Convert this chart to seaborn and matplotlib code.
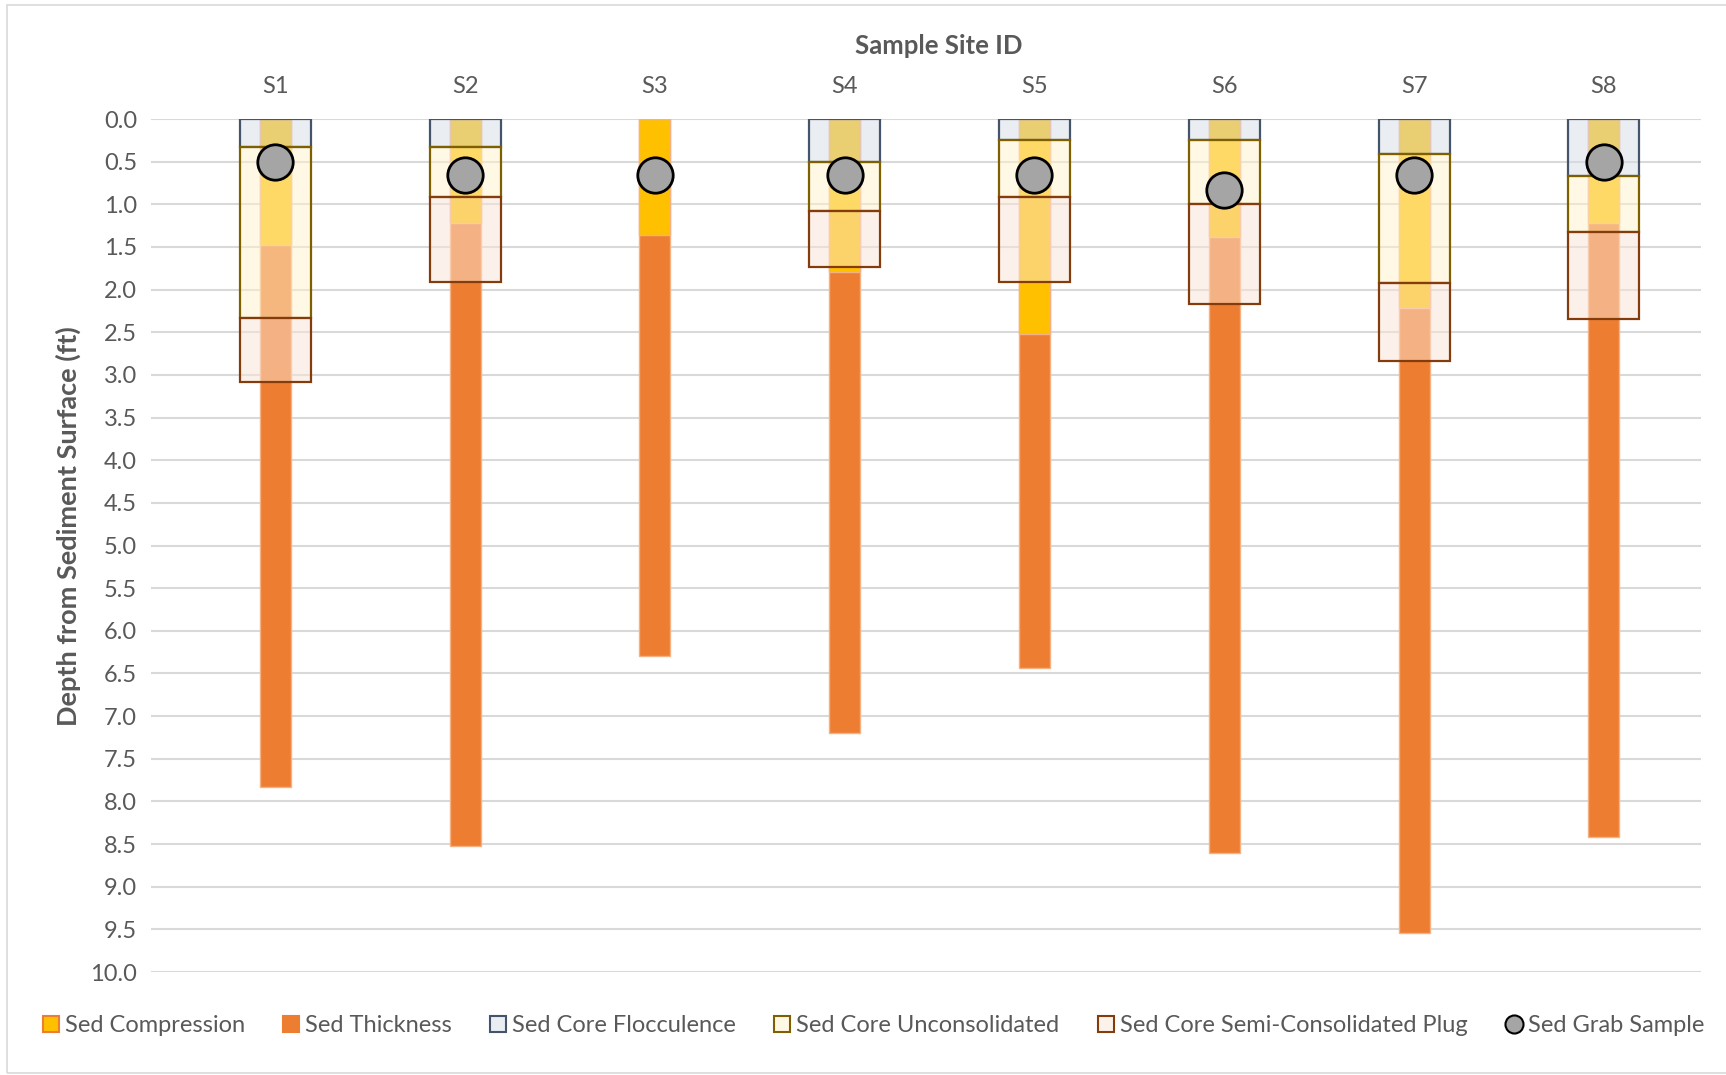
import numpy as np
import pandas as pd
import seaborn as sns
import matplotlib.pyplot as plt
from matplotlib.patches import Rectangle
from matplotlib.lines import Line2D

# depths (ft)
sites = ['S1', 'S2', 'S3', 'S4', 'S5', 'S6', 'S7', 'S8']
sed_compression = [1.48, 1.22, 1.36, 1.79, 2.52, 1.38, 2.22, 1.22]
sed_thickness = [7.83, 8.52, 6.29, 7.20, 6.44, 8.61, 9.54, 8.42]
core_flocculence = [0.33, 0.33, 0.0, 0.50, 0.25, 0.25, 0.41, 0.67]
core_unconsolidated = [2.33, 0.91, 0.0, 1.08, 0.91, 1.00, 1.92, 1.33]
core_plug = [3.08, 1.91, 0.0, 1.74, 1.91, 2.17, 2.84, 2.34]
grab_sample = [0.50, 0.66, 0.66, 0.66, 0.66, 0.83, 0.66, 0.50]

df = pd.DataFrame({'site': sites, 'compression': sed_compression,
                   'thickness': sed_thickness, 'grab': grab_sample})

sns.set_theme(style='white')
plt.rcParams['font.family'] = ['Lato', 'DejaVu Sans']
txt = '#595959'

fig = plt.figure(figsize=(17.26, 10.75), dpi=100)
ax = fig.add_axes([0.0875, 0.0958, 0.8978, 0.7935])

# center bars: thickness (full depth) with compression over it
sns.barplot(data=df, x='site', y='thickness', order=sites, color='#ED7D31',
            saturation=1, width=0.163, edgecolor='#F4B183', linewidth=1,
            ax=ax, zorder=2)
sns.barplot(data=df, x='site', y='compression', order=sites, color='#FFC000',
            saturation=1, width=0.163, edgecolor='#F4B183', linewidth=1,
            ax=ax, zorder=3)

# translucent core boxes, stacked
xpos = np.arange(len(sites))
floc = np.array(core_flocculence)
uncon = np.array(core_unconsolidated)
plug = np.array(core_plug)
has_core = plug > 0
bw = 0.374
ax.bar(xpos[has_core], floc[has_core], width=bw, bottom=0,
       color=(0.839, 0.863, 0.894, 0.5), edgecolor='#44546A', linewidth=1.6, zorder=4)
ax.bar(xpos[has_core], (uncon - floc)[has_core], width=bw, bottom=floc[has_core],
       color=(1.0, 0.949, 0.8, 0.5), edgecolor='#7F6000', linewidth=1.6, zorder=4)
ax.bar(xpos[has_core], (plug - uncon)[has_core], width=bw, bottom=uncon[has_core],
       color=(0.984, 0.898, 0.839, 0.5), edgecolor='#843C0C', linewidth=1.6, zorder=4)

sns.scatterplot(data=df, x='site', y='grab', s=650, color='#A5A5A5',
                edgecolor='black', linewidth=2, ax=ax, zorder=6)

ax.set_ylim(10, 0)
ax.set_xlim(-0.655, 7.51)
ax.set_yticks(np.arange(0, 10.01, 0.5))
ax.set_yticklabels([f'{v:.1f}' for v in np.arange(0, 10.01, 0.5)])
ax.yaxis.grid(True, color='#D9D9D9', linewidth=1.5, zorder=0)
ax.set_axisbelow(True)
for s in ax.spines.values():
    s.set_visible(False)
ax.xaxis.tick_top()
ax.xaxis.set_label_position('top')
ax.tick_params(axis='both', length=0, labelsize=17, colors=txt)
ax.tick_params(axis='y', pad=10)
ax.tick_params(axis='x', pad=16)
ax.set_xlabel('Sample Site ID', fontsize=18.5, fontweight='bold', color=txt)
ax.set_ylabel('Depth from Sediment Surface (ft)', fontsize=19.5, fontweight='bold',
              color=txt)
ax.xaxis.set_label_coords(0.5085, 1.076)
ax.yaxis.set_label_coords(-0.0455, 0.523)

handles = [
    Line2D([], [], marker='s', ls='', ms=11, mfc='#FFC000', mec='#ED7D31', mew=1.5),
    Line2D([], [], marker='s', ls='', ms=11, mfc='#ED7D31', mec='#ED7D31', mew=1.5),
    Line2D([], [], marker='s', ls='', ms=11, mfc='#EAEDF1', mec='#44546A', mew=1.5),
    Line2D([], [], marker='s', ls='', ms=11, mfc='#FFF8E5', mec='#7F6000', mew=1.5),
    Line2D([], [], marker='s', ls='', ms=11, mfc='#FDF2EA', mec='#843C0C', mew=1.5),
    Line2D([], [], marker='o', ls='', ms=13, mfc='#A5A5A5', mec='black', mew=1.5),
]
labels = ['Sed Compression', 'Sed Thickness', 'Sed Core Flocculence',
          'Sed Core Unconsolidated', 'Sed Core Semi-Consolidated Plug', 'Sed Grab Sample']
fig.legend(handles, labels, loc='center', bbox_to_anchor=(0.505, 0.046), ncol=6,
           frameon=False, fontsize=17, labelcolor=txt, handletextpad=0.1,
           columnspacing=1.45, handlelength=1.0)

fig.patches.append(Rectangle((0.004, 0.002), 1.2, 0.993, transform=fig.transFigure,
                             fill=False, edgecolor='#D9D9D9', linewidth=1.2))

fig.savefig('out.png', dpi=100)
